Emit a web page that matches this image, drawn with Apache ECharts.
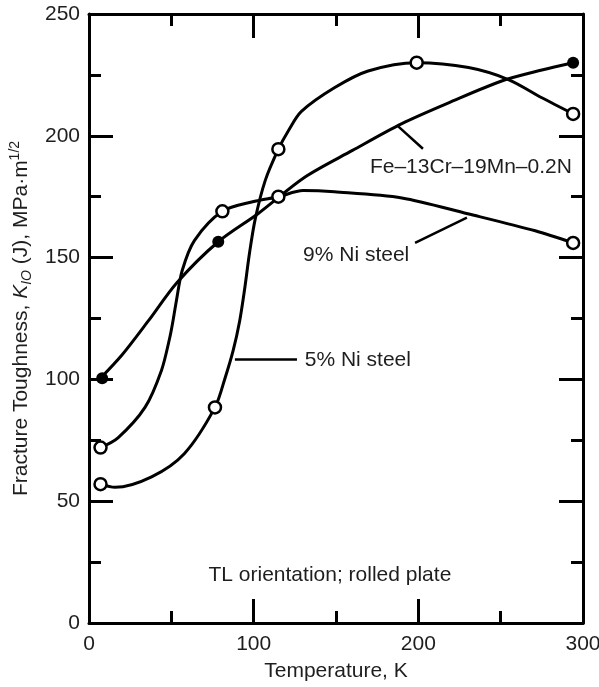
<!DOCTYPE html>
<html>
<head>
<meta charset="utf-8">
<script src="https://cdn.jsdelivr.net/npm/echarts@6/dist/echarts.min.js"></script>
<style>
	html,body{margin:0;padding:0;background:#fff;}
	#chart{width:599px;height:687px;}
</style>
</head>
<body>
<div id="chart"></div>
<script>
	// curves: temperature (K) and K_IO (MPa·m^1/2)
	var feCurveT = [7, 20, 36, 53.5, 78.5, 102.6, 131, 160, 190, 220, 250.6, 275, 294];
	var feCurveK = [100.5, 110, 124, 139.8, 156.5, 168, 183, 194, 205, 214, 222.5, 227, 230];
	var ni9CurveT = [7, 17.6, 34, 44, 49, 51, 53, 56.6, 64, 81, 100, 115, 130, 149, 190, 230, 271, 294];
	var ni9CurveK = [72, 76, 88.5, 103.7, 117, 124, 132, 144.7, 157, 169, 173, 175, 177.5, 177, 174.5, 168, 161, 156];
	var ni5CurveT = [7, 15.8, 38, 58, 76.5, 82.6, 87.6, 91.5, 94.5, 97.5, 101, 107, 115, 121, 129, 149, 169.5, 199, 230.5, 255, 275, 294];
	var ni5CurveK = [57, 55.7, 60, 69.6, 88.5, 100.5, 112, 124, 137, 152, 166, 181.6, 194.5, 202, 210, 219.7, 226.6, 230, 228, 223, 215.6, 209];

	// measured points
	var feDotT = [8, 78.5, 294];
	var feDotK = [100.5, 156.5, 230];
	var ni9DotT = [7, 81, 115, 294];
	var ni9DotK = [72, 169, 175, 156];
	var ni5DotT = [7, 76.5, 115, 199, 294];
	var ni5DotK = [57, 88.5, 194.5, 230, 209];

	// annotations
	var labelText = ['Fe–13Cr–19Mn–0.2N', '9% Ni steel', '5% Ni steel'];
	var labelT = [170.6, 130, 131];
	var labelK = [187, 151, 107.8];
	var pointerFe = [[187.6, 204], [202.8, 194.7]];
	var pointer9 = [[198, 156], [229.5, 166.4]];
	var pointer5 = [[88.6, 108.2], [126.3, 108.2]];
	var noteText = 'TL orientation; rolled plate';
	var notePos = [146.3, 19.7];

	var font = '"Liberation Sans", Arial, sans-serif';
	var textColor = '#1e1e1e';

	function zip(a, b){
		var out = [];
		for(var i = 0; i < a.length; i++){
			out.push([a[i], b[i]]);
		}
		return out;
	}

	function curve(t, k){
		return {
			type: 'line', data: zip(t, k), smooth: 0.3,
			symbol: 'none', silent: true,
			lineStyle: {color: '#000', width: 3, opacity: 1}
		};
	}
	function dots(t, k, filled){
		return {
			type: 'scatter', data: zip(t, k), symbol: 'circle', silent: true,
			symbolSize: 12, z: 5,
			itemStyle: filled ? {color: '#000', opacity: 1} : {color: '#fff', borderColor: '#000', borderWidth: 2.5, opacity: 1}
		};
	}
	function pointer(p){
		return {
			type: 'line', data: p, symbol: 'none', silent: true,
			lineStyle: {color: '#000', width: 2.5}
		};
	}

	function xAxisOf(pos){
		return {
			type: 'value', position: pos, min: 0, max: 300, interval: 100,
			axisLine: {show: true, onZero: false, lineStyle: {color: '#000', width: 3}},
			axisTick: {show: true, inside: true, length: 24, lineStyle: {color: '#000', width: 3}},
			minorTick: {show: true, splitNumber: 2, length: 12, lineStyle: {color: '#000', width: 3}},
			splitLine: {show: false},
			axisLabel: {show: pos == 'bottom', margin: 11, color: textColor, fontSize: 21, fontFamily: font},
			name: pos == 'bottom' ? 'Temperature, K' : '',
			nameLocation: 'middle', nameGap: 38,
			nameTextStyle: {color: textColor, fontSize: 21, fontFamily: font}
		};
	}
	function yAxisOf(pos){
		return {
			type: 'value', position: pos, min: 0, max: 250, interval: 50,
			axisLine: {show: true, onZero: false, lineStyle: {color: '#000', width: 3}},
			axisTick: {show: true, inside: true, length: 24, lineStyle: {color: '#000', width: 3}},
			minorTick: {show: true, splitNumber: 2, length: 12, lineStyle: {color: '#000', width: 3}},
			splitLine: {show: false},
			axisLabel: {show: pos == 'left', margin: 9, color: textColor, fontSize: 21, fontFamily: font},
			name: pos == 'left' ? '{a|Fracture Toughness, }{i|K}{sub|IO}{a| (J), MPa·m}{sup|1/2}' : '',
			nameLocation: 'middle', nameGap: 54,
			nameTextStyle: {
				color: textColor, fontSize: 21, fontFamily: font,
				rich: {
					a: {fontSize: 21, lineHeight: 26, fontFamily: font, color: textColor},
					i: {fontSize: 21, lineHeight: 26, fontStyle: 'italic', fontFamily: font, color: textColor},
					sub: {fontSize: 14, lineHeight: 14, verticalAlign: 'bottom', fontStyle: 'italic', fontFamily: font, color: textColor},
					sup: {fontSize: 14, lineHeight: 14, verticalAlign: 'top', fontFamily: font, color: textColor}
				}
			}
		};
	}

	var labelData = [];
	for(var i = 0; i < labelText.length; i++){
		labelData.push({value: [labelT[i], labelK[i]], name: labelText[i]});
	}

	var myChart = echarts.init(document.getElementById('chart'));
	var option = {
		animation: false,
		backgroundColor: '#fff',
		grid: {left: 89, right: 16, top: 14, bottom: 64, outerBoundsMode: 'none'},
		xAxis: [xAxisOf('bottom'), xAxisOf('top')],
		yAxis: [yAxisOf('left'), yAxisOf('right')],
		series: [
			curve(feCurveT, feCurveK),
			curve(ni9CurveT, ni9CurveK),
			curve(ni5CurveT, ni5CurveK),
			pointer(pointerFe),
			pointer(pointer9),
			pointer(pointer5),
			dots(feDotT, feDotK, true),
			dots(ni9DotT, ni9DotK, false),
			dots(ni5DotT, ni5DotK, false),
			{
				type: 'scatter', data: labelData, symbolSize: 0, silent: true,
				itemStyle: {opacity: 1},
				label: {
					show: true, position: 'right', distance: 0, opacity: 1,
					formatter: function(p){ return p.name; },
					color: textColor, fontSize: 21, fontFamily: font
				}
			},
			{
				type: 'scatter', data: [{value: notePos, name: noteText}], symbolSize: 0, silent: true,
				itemStyle: {opacity: 1},
				label: {
					show: true, position: 'inside', opacity: 1,
					formatter: function(p){ return p.name; },
					color: textColor, fontSize: 21, fontFamily: font
				}
			}
		]
	};
	myChart.setOption(option);
</script>
</body>
</html>
